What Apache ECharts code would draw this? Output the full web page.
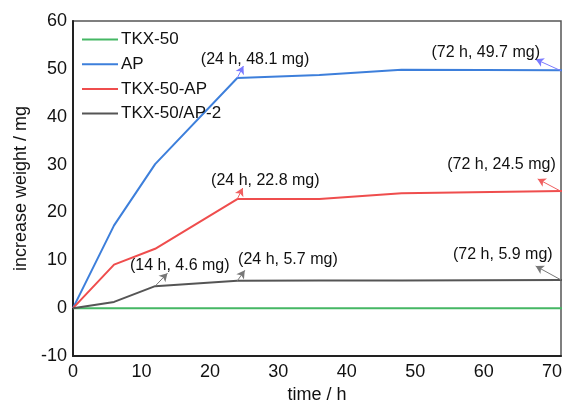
<!DOCTYPE html>
<html>
<head>
<meta charset="utf-8">
<script src="https://cdn.jsdelivr.net/npm/echarts@6/dist/echarts.min.js"></script>
<style>
html,body{margin:0;padding:0;background:#fff;}
#c{width:562px;height:405px;}
</style>
</head>
<body>
<div id="c"></div>
<script>
// ---- data ----
const hours = [0, 6, 12, 24, 36, 48, 72];
const tkx50 = [0, 0, 0, 0, 0, 0, 0];
const ap = [0, 17.3, 30.1, 48.1, 48.7, 49.8, 49.7];
const tkxAp = [0, 9.1, 12.4, 22.8, 22.8, 24.0, 24.5];
const tkxAp2 = [0, 1.3, 4.6, 5.7, 5.8, 5.8, 5.9];
const seriesNames = ['TKX-50', 'AP', 'TKX-50-AP', 'TKX-50/AP-2'];
const xTicks = [0, 10, 20, 30, 40, 50, 60, 70];
const yTicks = [-10, 0, 10, 20, 30, 40, 50, 60];
const annoTexts = {
  ap: ['(24 h, 48.1 mg)', '(72 h, 49.7 mg)'],
  tkxAp: ['(24 h, 22.8 mg)', '(72 h, 24.5 mg)'],
  tkxAp2: ['(14 h, 4.6 mg)', '(24 h, 5.7 mg)', '(72 h, 5.9 mg)']
};

const FONT = 'Liberation Sans, Arial, sans-serif';
const X_MAX = 71.3;
const pts = (xs, ys) => xs.map((x, i) => [x, ys[i]]);

// annotation layout (arrow start, arrow tip, text centre) in data units
function annos(texts, layout, color) {
  return {
    markLine: {
      silent: true,
      symbol: ['none', 'arrow'],
      symbolSize: [7, 8],
      label: {show: false},
      lineStyle: {color: color, width: 1, type: 'solid'},
      emphasis: {disabled: true},
      data: layout.map(l => [{coord: l[0]}, {coord: l[1]}])
    },
    markPoint: {
      silent: true,
      symbol: 'circle',
      symbolSize: 0,
      data: layout.map((l, i) => ({
        coord: l[2],
        label: {show: true, position: 'inside', formatter: texts[i],
          color: '#111', fontSize: 16, fontFamily: FONT}
      }))
    }
  };
}

const apAnno = annos(annoTexts.ap, [
  [[hours[3], ap[3]], [24.9, 50.6], [26.6, 51.9]],
  [[X_MAX, 49.6], [67.6, 52.0], [60.3, 53.5]]
], '#7a7aff');
const redAnno = annos(annoTexts.tkxAp, [
  [[hours[3], tkxAp[3]], [24.8, 25.1], [28.1, 26.6]],
  [[X_MAX, 24.4], [67.9, 27.0], [62.6, 29.9]]
], '#f06060');
const grayAnno = annos(annoTexts.tkxAp2, [
  [[hours[2], tkxAp2[2]], [13.8, 7.3], [15.6, 8.8]],
  [[hours[3], tkxAp2[3]], [25.1, 7.9], [31.4, 10.1]],
  [[X_MAX, 5.9], [67.6, 8.8], [62.8, 11.1]]
], '#777');

const colors = ['#45b764', '#3d7fdb', '#ef4d4d', '#555555'];

function mk(name, vals, color, extra) {
  return Object.assign({
    name: name, type: 'line', data: pts(hours, vals),
    symbol: 'none', showSymbol: false, clip: true,
    lineStyle: {color: color, width: 2},
    itemStyle: {color: color},
    z: 3
  }, extra || {});
}

const chart = echarts.init(document.getElementById('c'), null, {renderer: 'canvas'});
chart.setOption({
  animation: false,
  backgroundColor: '#fff',
  textStyle: {fontFamily: FONT},
  grid: {left: 73, right: 1, top: 21, bottom: 49, containLabel: false, outerBoundsMode: 'none',
    show: true, borderColor: '#555', borderWidth: 1.5, backgroundColor: 'transparent'},
  legend: {
    orient: 'vertical', left: 77, top: 26,
    itemWidth: 36, itemHeight: 14, itemGap: 7.7,
    icon: 'path://M0,6L36,6L36,8L0,8Z',
    textStyle: {fontSize: 17, color: '#111', fontFamily: FONT, padding: [0,0,0,-2]},
    data: seriesNames
  },
  xAxis: {
    type: 'value', min: xTicks[0], max: X_MAX, interval: 10,
    name: 'time / h', nameLocation: 'middle', nameGap: 30,
    nameTextStyle: {fontSize: 18, color: '#111', fontFamily: FONT},
    axisLine: {show: true, onZero: false, lineStyle: {color: '#222', width: 2}},
    axisTick: {show: false},
    splitLine: {show: false},
    axisLabel: {fontSize: 18, color: '#111', margin: 7, showMaxLabel: false, fontFamily: FONT,
      formatter: v => xTicks.includes(v) ? String(v) : ''}
  },
  yAxis: {
    type: 'value', min: yTicks[0], max: yTicks[yTicks.length - 1], interval: 10,
    name: 'increase weight / mg', nameLocation: 'middle', nameGap: 42,
    nameTextStyle: {fontSize: 18, color: '#111', fontFamily: FONT},
    axisLine: {show: true, onZero: false, lineStyle: {color: '#222', width: 2}},
    axisTick: {show: false},
    splitLine: {show: false},
    axisLabel: {fontSize: 18, color: '#111', margin: 6, fontFamily: FONT}
  },
  series: [
    mk(seriesNames[0], tkx50, colors[0]),
    mk(seriesNames[1], ap, colors[1], apAnno),
    mk(seriesNames[2], tkxAp, colors[2], redAnno),
    mk(seriesNames[3], tkxAp2, colors[3], grayAnno)
  ]
});
</script>
</body>
</html>
